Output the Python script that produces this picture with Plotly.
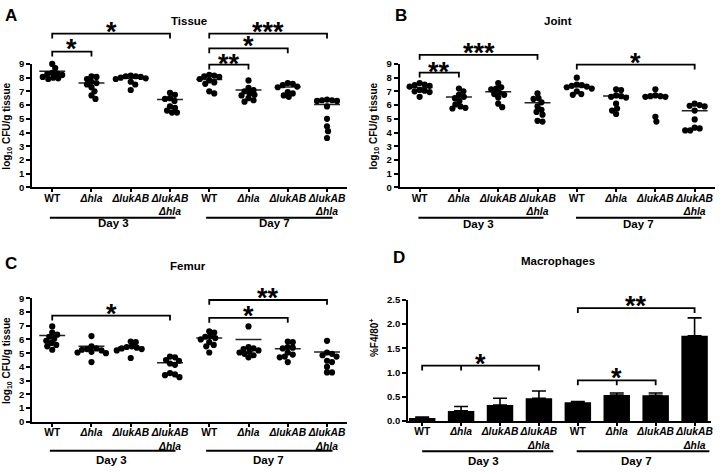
import plotly.graph_objects as go

W, H = 720, 472
FONT = "Liberation Sans"

# ---------------- data ----------------
tick_labels = ["WT", "<i>Δhla</i>", "<i>ΔlukAB</i>", "<i>ΔlukAB</i><br><i>Δhla</i>"] * 2
day_labels = ["Day 3", "Day 7"]

tissue = [
    [9.0, 8.7, 8.35, 8.3, 8.25, 8.2, 8.05, 8.0, 7.95, 7.9],
    [8.1, 8.05, 7.9, 7.7, 7.6, 7.5, 7.3, 7.0, 6.7, 6.45],
    [8.15, 8.1, 8.1, 8.05, 8.0, 7.95, 7.9, 7.7, 7.5, 7.1],
    [6.9, 6.75, 6.5, 6.45, 6.3, 5.9, 5.8, 5.6, 5.45, 5.45],
    [8.2, 8.15, 8.1, 8.05, 7.9, 7.8, 7.65, 7.55, 7.0, 6.85],
    [7.8, 7.25, 7.1, 7.0, 6.85, 6.75, 6.7, 6.5, 6.35, 6.25],
    [7.6, 7.55, 7.45, 7.35, 7.3, 6.95, 6.85, 6.7, 6.6],
    [6.4, 6.35, 6.35, 6.3, 6.3, 5.9, 5.0, 4.45, 4.1, 3.6],
]
tissue_center = [8.47, 7.6, 7.95, 6.4, 7.86, 7.09, 7.32, 6.04]

joint = [
    [7.6, 7.5, 7.45, 7.4, 7.35, 7.1, 7.05, 7.0, 6.95, 6.6],
    [7.2, 7.0, 6.75, 6.6, 6.5, 6.3, 6.05, 5.9, 5.8, 5.75],
    [7.6, 7.3, 7.2, 7.15, 6.9, 6.8, 6.75, 6.55, 6.1, 5.85],
    [6.85, 6.5, 6.45, 6.2, 5.9, 5.65, 5.5, 5.3, 4.85, 4.8],
    [8.0, 7.5, 7.45, 7.4, 7.35, 7.3, 7.2, 7.0, 6.8, 6.75],
    [7.15, 7.1, 6.7, 6.65, 6.6, 6.55, 6.1, 5.75, 5.6, 5.35],
    [7.15, 6.7, 6.65, 6.65, 6.6, 6.6, 5.15, 4.8],
    [6.1, 6.0, 5.95, 5.9, 5.6, 4.95, 4.35, 4.3, 4.15, 4.15],
]
joint_center = [7.29, 6.58, 6.98, 6.17, 7.34, 6.67, 6.65, 5.58]

femur = [
    [6.95, 6.5, 6.35, 6.2, 6.05, 5.9, 5.75, 5.6, 5.5, 5.25],
    [6.25, 5.5, 5.35, 5.3, 5.25, 5.2, 5.1, 5.05, 5.0, 4.35],
    [5.85, 5.8, 5.5, 5.45, 5.4, 5.35, 5.3, 5.2, 4.65],
    [4.75, 4.7, 4.5, 4.45, 4.25, 4.15, 3.55, 3.45, 3.4, 3.25],
    [6.6, 6.5, 6.25, 6.2, 6.1, 6.0, 5.8, 5.6, 5.5, 5.05],
    [6.95, 5.45, 5.35, 5.3, 5.2, 5.1, 5.05, 4.95, 4.85, 4.7],
    [5.85, 5.8, 5.45, 5.4, 5.35, 5.05, 4.9, 4.75, 4.7, 4.35],
    [5.9, 5.05, 4.95, 4.85, 4.75, 4.45, 4.35, 4.0, 3.6, 3.6],
]
femur_center = [6.29, 5.5, 5.44, 4.3, 6.1, 5.99, 5.32, 5.08]

macro_mean = [0.065, 0.21, 0.33, 0.47, 0.39, 0.535, 0.53, 1.755]
macro_sem = [0.02, 0.09, 0.14, 0.15, 0.015, 0.045, 0.05, 0.37]

# ---------------- helpers ----------------
def pxx(p):
    return p / W

def pxy(p):
    return 1 - p / H

def swarm(vals, xppu, yppu, d=5.0):
    """beeswarm offsets (category units) derived from values"""
    placed, res = [], [0.0] * len(vals)
    order = sorted(range(len(vals)), key=lambda i: -vals[i])
    cands = [0.0]
    for n in range(1, 80):
        cands += [n * 0.5, -n * 0.5]
    for i in order:
        y = vals[i] * yppu
        for c in cands:
            if all((c - a) ** 2 + (y - b) ** 2 >= d * d for a, b in placed):
                break
        placed.append((c, y))
        res[i] = c / xppu
    return res

fig = go.Figure()
shapes, annos = [], []

axis_common = dict(showline=True, linecolor="black", linewidth=2, ticks="outside",
                   ticklen=4, tickwidth=1.5, tickcolor="black", showgrid=False,
                   zeroline=False, fixedrange=True)

panels = [
    dict(n=1, data=tissue, cen=tissue_center, xd=(32.3, 348), yd=(59.3, 185.7), xr=(-0.51, 7.51)),
    dict(n=2, data=joint, cen=joint_center, xd=(400.7, 716.7), yd=(59.3, 185.7), xr=(-0.51, 7.51)),
    dict(n=3, data=femur, cen=femur_center, xd=(32.3, 348), yd=(299.3, 425.7), xr=(-0.51, 7.51)),
    dict(n=4, data=None, cen=None, xd=(409.3, 713.3), yd=(300.7, 425), xr=(-0.36, 7.43)),
]

layout_axes = {}
for p in panels:
    n = p["n"]
    xs = "" if n == 1 else str(n)
    xname, yname = "x" + xs, "y" + xs
    layout_axes["xaxis" + xs] = dict(
        axis_common, ticklen=3, ticklabelstandoff=-3, tickangle=0,
        domain=[pxx(p["xd"][0]), pxx(p["xd"][1])], range=list(p["xr"]),
        anchor=yname, tickvals=list(range(8)), ticktext=tick_labels,
        tickfont=dict(family=FONT, size=10.3, color="black", weight="bold"))
    if n < 4:
        yax = dict(range=[0, 9], tickvals=list(range(10)))
    else:
        yax = dict(range=[0, 2.5], tickvals=[0, 0.5, 1.0, 1.5, 2.0, 2.5], tickformat=".1f")
    layout_axes["yaxis" + xs] = dict(
        axis_common, domain=[pxy(p["yd"][1]), pxy(p["yd"][0])], anchor=xname,
        tickfont=dict(family=FONT, size=9.5, color="black", weight="bold"), **yax)

    if n < 4:
        xppu = (p["xd"][1] - p["xd"][0]) / (p["xr"][1] - p["xr"][0])
        yppu = (p["yd"][1] - p["yd"][0]) / 9.0
        X, Y = [], []
        for i, grp in enumerate(p["data"]):
            offs = swarm(grp, xppu, yppu)
            X += [i + o for o in offs]
            Y += grp
        LX, LY = [], []
        for i, c in enumerate(p["cen"]):
            LX += [i - 0.33, i + 0.33, None]
            LY += [c, c, None]
        fig.add_trace(go.Scatter(x=LX, y=LY, mode="lines", xaxis=xname, yaxis=yname,
                                 line=dict(color="#222", width=1.5), cliponaxis=False,
                                 showlegend=False, hoverinfo="skip"))
        fig.add_trace(go.Scatter(x=X, y=Y, mode="markers", xaxis=xname, yaxis=yname,
                                 marker=dict(color="black", size=6.2), cliponaxis=False,
                                 showlegend=False, hoverinfo="skip"))
    else:
        fig.add_trace(go.Bar(x=list(range(8)), y=macro_mean, xaxis=xname, yaxis=yname,
                             width=0.68, marker=dict(color="black", line=dict(width=0)),
                             error_y=dict(type="data", symmetric=False, array=macro_sem,
                                          arrayminus=[0] * 8, color="black",
                                          thickness=1.6, width=7),
                             showlegend=False, hoverinfo="skip"))

fig.update_layout(**layout_axes)

# ---------------- significance brackets ----------------
brackets = [
    (1, 0, 3, "*", 28.3, 33.3, 20, None),
    (1, 0, 1, "*", 46.7, 51.7, 38.3, None),
    (1, 4, 7, "***", 28.3, 33.3, 20, None),
    (1, 4, 6, "*", 43.3, 48.3, 35, None),
    (1, 4, 5, "**", 60, 65, 53.3, None),
    (2, 0, 3, "***", 50, 55, 41.7, None),
    (2, 0, 1, "**", 68.3, 73.3, 61.7, None),
    (2, 4, 7, "*", 60, 65, 51.7, None),
    (3, 0, 3, "*", 317, 322, 309.3, None),
    (3, 4, 7, "**", 301, 306, 292.7, None),
    (3, 4, 6, "*", 319.3, 324.3, 311, None),
    (4, 0, 3, "*", 368.3, 373.3, 360, 1),
    (4, 4, 6, "*", 383.3, 388.3, 375, 5),
    (4, 4, 7, "**", 309.3, 314.3, 300.7, None),
]
STAR = 27
for (n, a, b, s, yl, yt, ys, mid) in brackets:
    xr = "x" if n == 1 else "x%d" % n
    path = "M %s,%f L %s,%f L %s,%f L %s,%f" % (a, pxy(yt), a, pxy(yl), b, pxy(yl), b, pxy(yt))
    if mid is not None:
        path += " M %s,%f L %s,%f" % (mid, pxy(yl), mid, pxy(yt))
    shapes.append(dict(type="path", path=path, xref=xr, yref="paper",
                       line=dict(color="black", width=1.8)))
    annos.append(dict(text=s, x=(a + b) / 2, y=pxy(ys + 0.23 * STAR), xref=xr, yref="paper",
                      xanchor="center", yanchor="middle", showarrow=False,
                      font=dict(family=FONT, size=STAR, color="black", weight="bold")))

# ---------------- day groupings ----------------
days = [
    (1, (-0.06, 3.14), (3.92, 7.14), 1.55, 5.66, 216.7, 222.5),
    (2, (-0.03, 3.15), (3.98, 7.17), 1.5, 5.56, 216.7, 223),
    (3, (-0.06, 3.14), (3.92, 7.14), 1.5, 5.5, 455.3, 465.3),
    (4, (0.0, 3.37), (3.97, 7.38), 1.58, 5.5, 456, 466),
]
for (n, s3, s7, t3, t7, yl, yt) in days:
    xr = "x" if n == 1 else "x%d" % n
    for span, tx, lab in ((s3, t3, day_labels[0]), (s7, t7, day_labels[1])):
        shapes.append(dict(type="line", x0=span[0], x1=span[1], y0=pxy(yl), y1=pxy(yl),
                           xref=xr, yref="paper", line=dict(color="black", width=2)))
        annos.append(dict(text=lab, x=tx, y=pxy(yt), xref=xr, yref="paper",
                          xanchor="center", yanchor="middle", showarrow=False,
                          font=dict(family=FONT, size=11.5, color="black", weight="bold")))

# ---------------- titles, letters, y titles ----------------
titles = [("Tissue", 190, 15), ("Joint", 560, 15), ("Femur", 188.3, 266), ("Macrophages", 560, 261)]
for t, x, y in titles:
    annos.append(dict(text=t, x=pxx(x), y=pxy(y), xref="paper", yref="paper",
                      xanchor="center", yanchor="middle", showarrow=False,
                      font=dict(family=FONT, size=11.5, color="black", weight="bold")))
letters = [("A", 10.8, 9.5), ("B", 401.7, 9.5), ("C", 10.8, 263.5), ("D", 400, 257)]
for t, x, y in letters:
    annos.append(dict(text=t, x=pxx(x), y=pxy(y), xref="paper", yref="paper",
                      xanchor="center", yanchor="middle", showarrow=False,
                      font=dict(family=FONT, size=17, color="black", weight="bold")))
ytitles = [("log<sub>10</sub> CFU/g tissue", 7, 122.5), ("log<sub>10</sub> CFU/g tissue", 375, 122.5),
           ("log<sub>10</sub> CFU/g tissue", 7, 362.5), ("%F4/80<sup>+</sup>", 375, 339)]
for t, x, y in ytitles:
    annos.append(dict(text=t, x=pxx(x), y=pxy(y), xref="paper", yref="paper", textangle=-90,
                      xanchor="center", yanchor="middle", showarrow=False,
                      font=dict(family=FONT, size=10, color="black", weight="bold")))

fig.update_layout(width=W, height=H, margin=dict(l=0, r=0, t=0, b=0),
                  paper_bgcolor="white", plot_bgcolor="white",
                  shapes=shapes, annotations=annos, showlegend=False,
                  font=dict(family=FONT, color="black"))

fig.write_html("out.html", config={"displayModeBar": False},
               post_script="document.body.style.margin='0';document.body.style.padding='0';")
